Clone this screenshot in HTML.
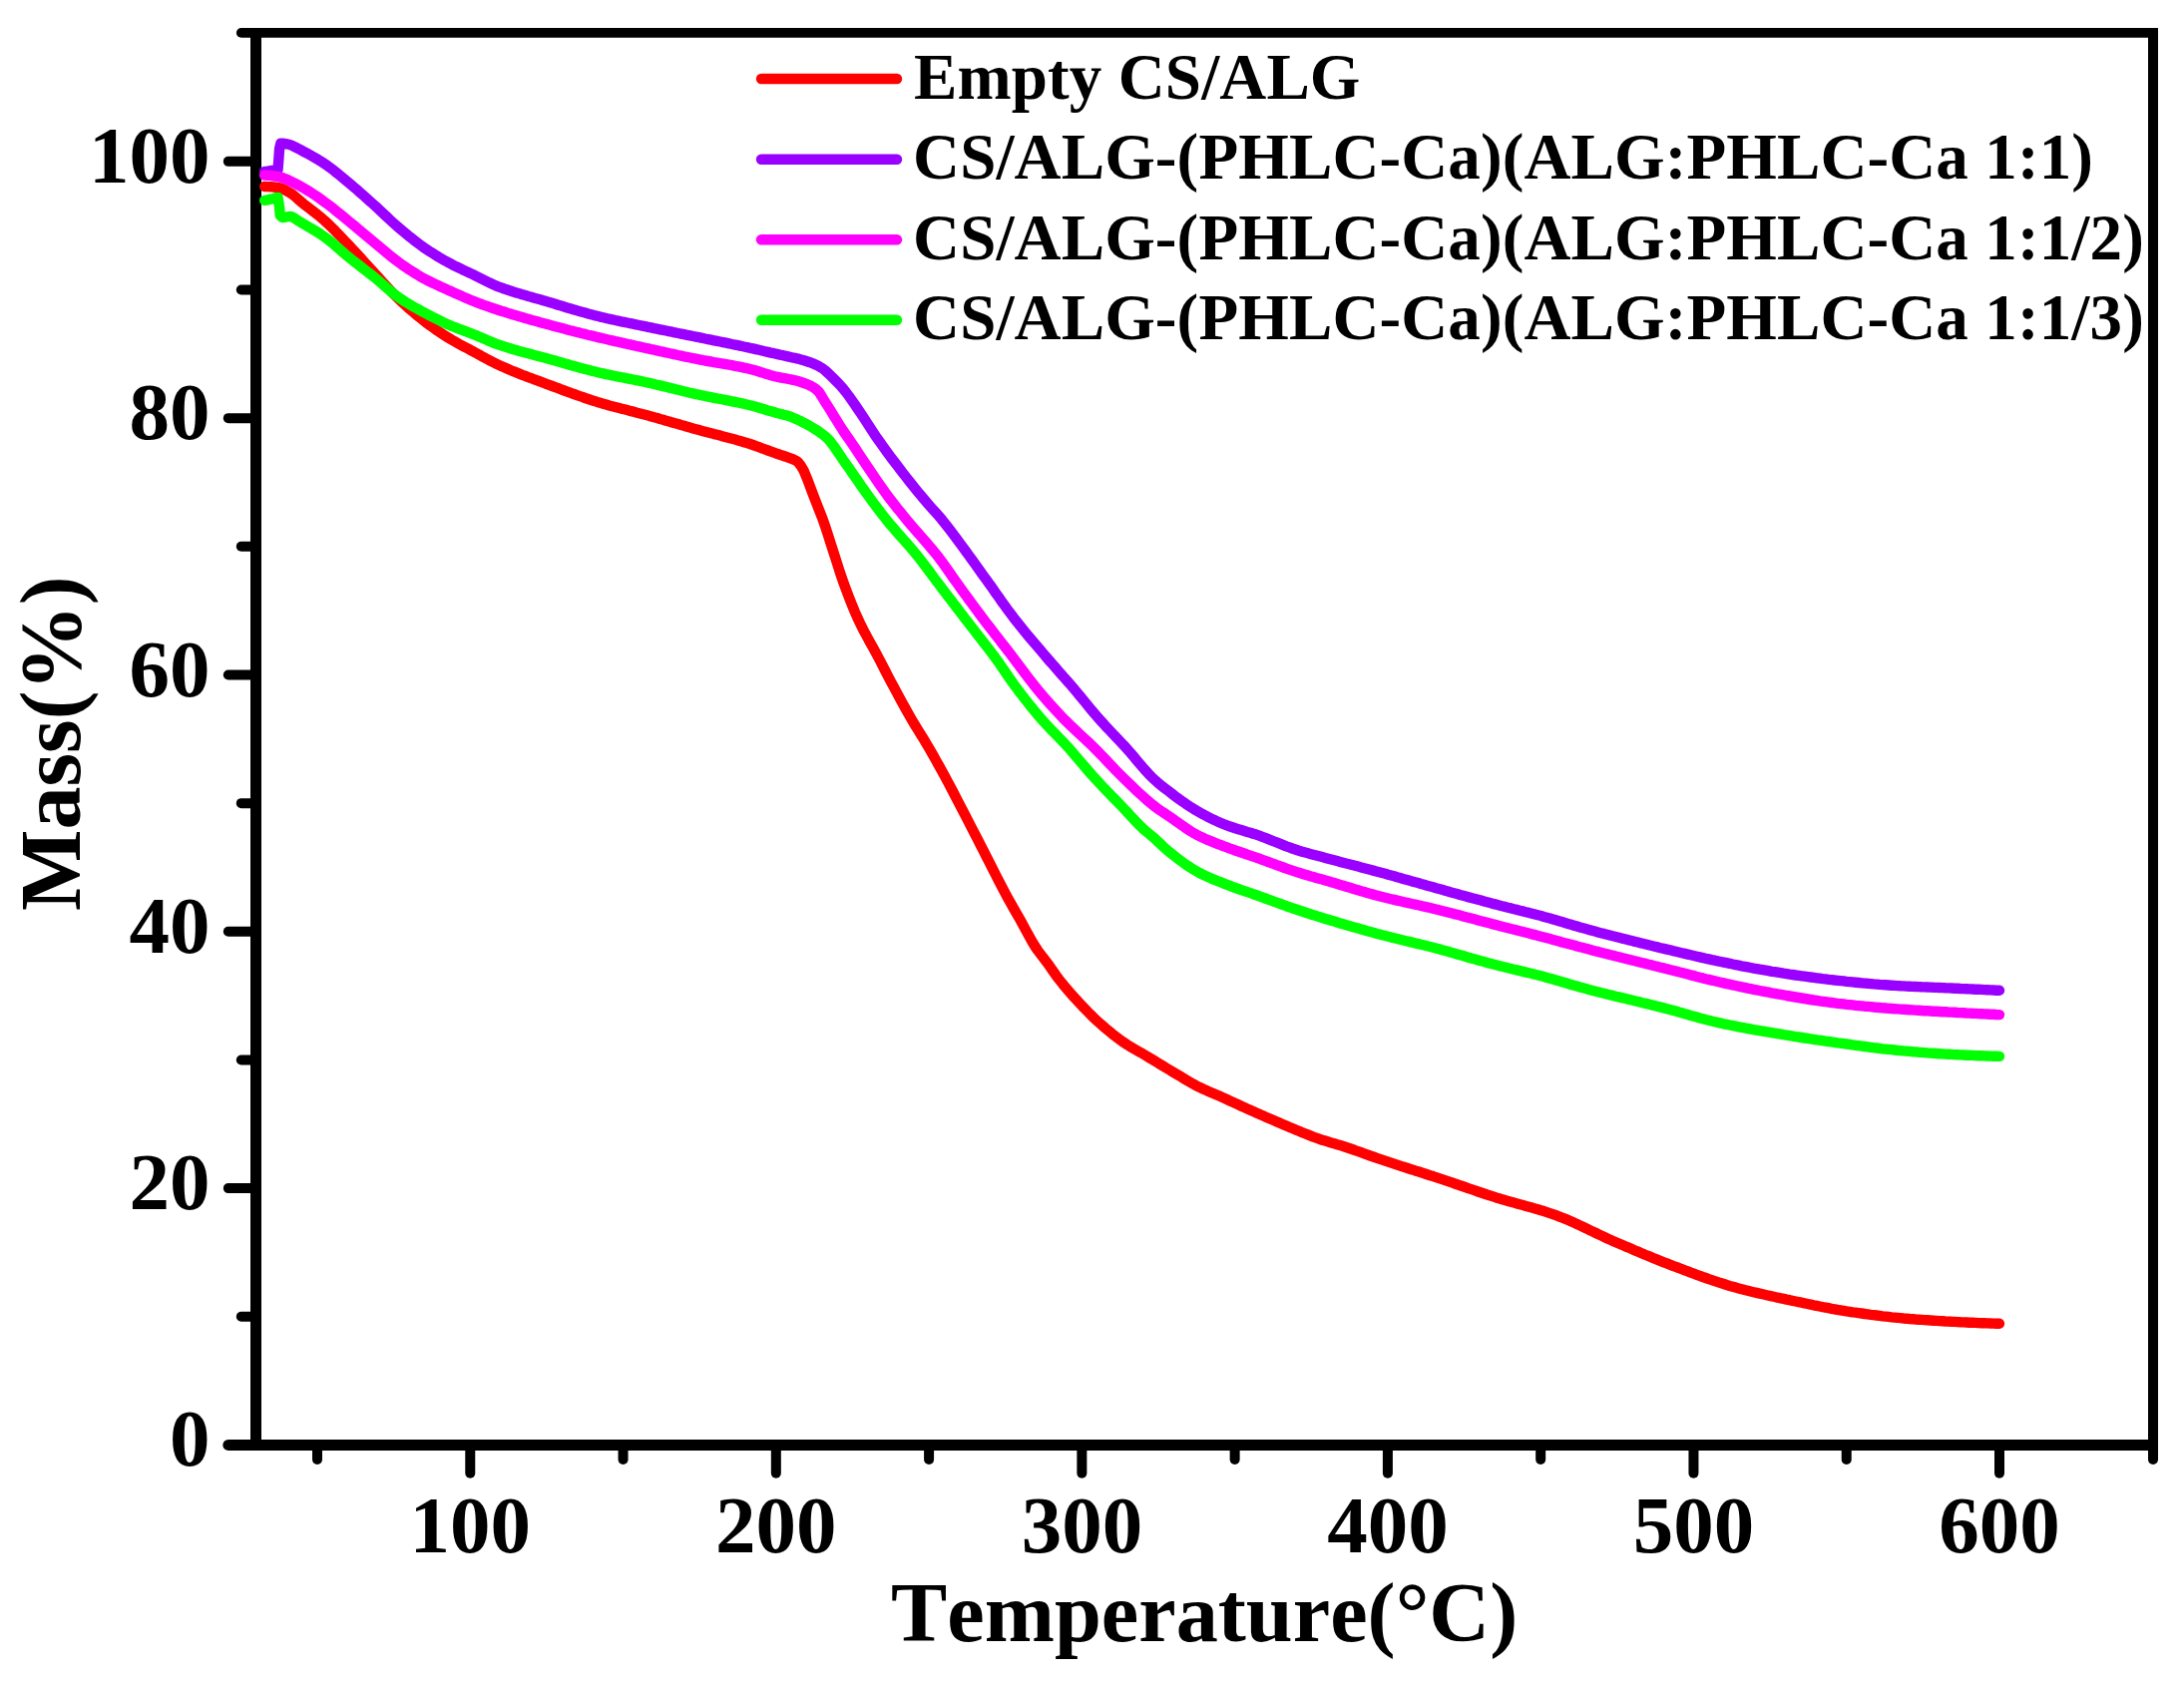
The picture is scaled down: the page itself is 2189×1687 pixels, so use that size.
<!DOCTYPE html>
<html lang="en">
<head>
<meta charset="utf-8">
<title>TGA curves</title>
<style>
html,body{margin:0;padding:0;background:#fff;}
svg{display:block;}
text{font-kerning:none;font-family:"Liberation Serif","Times New Roman",serif;font-weight:bold;fill:#000;}
</style>
</head>
<body>
<svg width="2189" height="1687" viewBox="0 0 2189 1687">
<rect x="0" y="0" width="2189" height="1687" fill="#ffffff"/>
<g stroke="#000" fill="none">
<line x1="256.5" y1="28" x2="256.5" y2="1453.9" stroke-width="11"/>
<line x1="2158" y1="28" x2="2158" y2="1453.9" stroke-width="10"/>
<line x1="251" y1="32.9" x2="2163" y2="32.9" stroke-width="9.8"/>
<line x1="251" y1="1448.45" x2="2163" y2="1448.45" stroke-width="10.9"/>
</g>
<g stroke="#000" stroke-width="10" stroke-linecap="round" fill="none">
<line x1="253.5" y1="1448.45" x2="228.8" y2="1448.45" stroke-width="10.9"/>
<line x1="253.5" y1="1319.75" x2="241.8" y2="1319.75"/>
<line x1="253.5" y1="1191.09" x2="228.8" y2="1191.09"/>
<line x1="253.5" y1="1062.44" x2="241.8" y2="1062.44"/>
<line x1="253.5" y1="933.78" x2="228.8" y2="933.78"/>
<line x1="253.5" y1="805.13" x2="241.8" y2="805.13"/>
<line x1="253.5" y1="676.47" x2="228.8" y2="676.47"/>
<line x1="253.5" y1="547.82" x2="241.8" y2="547.82"/>
<line x1="253.5" y1="419.16" x2="228.8" y2="419.16"/>
<line x1="253.5" y1="290.51" x2="241.8" y2="290.51"/>
<line x1="253.5" y1="161.85" x2="228.8" y2="161.85"/>
<line x1="253.5" y1="32.90" x2="241.8" y2="32.90" stroke-width="9.8"/>
<line x1="318.00" y1="1451.4" x2="318.00" y2="1463.0"/>
<line x1="471.27" y1="1451.4" x2="471.27" y2="1476.7"/>
<line x1="624.54" y1="1451.4" x2="624.54" y2="1463.0"/>
<line x1="777.82" y1="1451.4" x2="777.82" y2="1476.7"/>
<line x1="931.09" y1="1451.4" x2="931.09" y2="1463.0"/>
<line x1="1084.36" y1="1451.4" x2="1084.36" y2="1476.7"/>
<line x1="1237.63" y1="1451.4" x2="1237.63" y2="1463.0"/>
<line x1="1390.91" y1="1451.4" x2="1390.91" y2="1476.7"/>
<line x1="1544.18" y1="1451.4" x2="1544.18" y2="1463.0"/>
<line x1="1697.45" y1="1451.4" x2="1697.45" y2="1476.7"/>
<line x1="1850.72" y1="1451.4" x2="1850.72" y2="1463.0"/>
<line x1="2004.00" y1="1451.4" x2="2004.00" y2="1476.7"/>
<line x1="2158.00" y1="1451.4" x2="2158.00" y2="1463.0"/>
</g>
<g fill="none" stroke-width="10.4" stroke-linecap="round" stroke-linejoin="round">
<polyline stroke="#ff0000" points="265.2,187.0 268.2,187.1 271.2,187.2 274.2,187.5 277.2,187.8 278.5,188.0 280.2,188.3 283.2,189.3 286.2,190.7 289.2,192.4 292.2,194.2 292.8,194.6 295.2,196.5 298.2,199.2 301.2,201.8 304.2,204.3 307.2,206.6 310.2,208.9 313.2,211.3 316.3,213.6 319.3,216.0 322.3,218.5 325.3,221.1 328.3,223.9 331.3,226.8 334.3,229.7 337.3,232.8 340.3,235.9 343.3,239.0 346.3,242.2 349.3,245.4 352.3,248.5 355.3,251.7 358.3,255.0 361.3,258.3 364.3,261.7 367.3,265.0 370.3,268.3 373.3,271.6 376.3,274.8 379.3,278.1 382.3,281.4 385.3,284.7 388.3,288.0 391.3,291.2 394.3,294.4 397.3,297.4 400.3,300.3 403.3,303.2 406.3,305.9 409.3,308.7 412.4,311.3 415.4,313.9 418.4,316.4 421.4,318.8 424.4,321.2 427.4,323.5 430.4,325.7 433.4,327.9 436.4,330.1 439.4,332.1 442.4,334.2 445.4,336.1 448.4,338.0 451.4,339.8 454.4,341.6 457.4,343.3 460.4,345.0 463.4,346.6 466.4,348.2 469.4,349.7 472.4,351.3 475.4,352.9 478.4,354.6 481.4,356.2 484.4,357.9 487.4,359.5 490.4,361.1 493.4,362.7 496.4,364.2 499.4,365.6 502.4,367.0 505.4,368.3 508.5,369.6 511.5,370.9 514.5,372.2 517.5,373.4 520.5,374.6 523.5,375.8 526.5,376.9 529.5,378.1 532.5,379.2 535.5,380.3 538.5,381.4 541.5,382.5 544.5,383.7 547.5,384.8 550.5,385.9 553.5,387.0 556.5,388.1 559.5,389.2 562.5,390.4 565.5,391.5 568.5,392.6 571.5,393.7 574.5,394.8 577.5,395.8 580.5,396.9 583.5,397.9 586.5,399.0 589.5,400.0 592.5,401.0 595.5,401.9 598.5,402.9 601.5,403.8 604.6,404.7 607.6,405.5 610.6,406.4 613.6,407.2 616.6,408.0 619.6,408.8 622.6,409.6 625.6,410.3 628.6,411.1 631.6,411.9 634.6,412.6 637.6,413.4 640.6,414.2 643.6,415.0 646.6,415.8 649.6,416.6 652.6,417.4 655.6,418.3 658.6,419.1 661.6,420.0 664.6,420.8 667.6,421.7 670.6,422.5 673.6,423.4 676.6,424.3 679.6,425.1 682.6,426.0 685.6,426.8 688.6,427.7 691.6,428.6 694.6,429.4 697.6,430.2 700.7,431.1 703.7,431.9 706.7,432.7 709.7,433.5 712.7,434.3 715.7,435.1 718.7,435.8 721.7,436.6 724.7,437.4 727.7,438.2 730.7,439.0 733.7,439.8 736.7,440.6 739.7,441.4 742.7,442.3 745.7,443.2 748.7,444.1 751.7,445.0 754.7,446.0 757.7,447.1 760.7,448.2 763.7,449.3 766.7,450.4 769.7,451.5 772.7,452.6 775.7,453.7 778.7,454.8 781.7,455.8 784.7,456.7 787.7,457.7 790.7,458.8 793.7,459.9 796.8,461.2 799.8,463.1 802.8,467.0 805.8,472.2 808.8,479.4 811.8,487.3 814.8,495.4 817.8,503.2 820.8,510.7 823.8,518.3 826.8,526.8 829.8,535.9 832.8,545.3 835.8,554.7 838.8,564.0 841.8,573.5 844.8,582.2 847.8,590.5 850.8,598.4 853.8,606.0 856.8,613.3 859.8,620.0 862.8,626.4 865.8,632.3 868.8,637.9 871.8,643.4 874.8,648.8 877.8,654.3 880.8,659.9 883.8,665.7 886.8,671.5 889.8,677.3 892.8,683.1 895.9,688.8 898.9,694.4 901.9,700.0 904.9,705.5 907.9,710.9 910.9,716.3 913.9,721.5 916.9,726.5 919.9,731.4 922.9,736.3 925.9,741.1 928.9,746.1 931.9,751.2 934.9,756.4 937.9,761.7 940.9,767.1 943.9,772.5 946.9,778.0 949.9,783.6 952.9,789.2 955.9,795.0 958.9,800.8 961.9,806.6 964.9,812.4 967.9,818.1 970.9,824.0 973.9,829.8 976.9,835.6 979.9,841.4 982.9,847.3 985.9,853.2 988.9,859.2 992.0,865.2 995.0,871.1 998.0,877.0 1001.0,882.9 1004.0,888.7 1007.0,894.4 1010.0,899.9 1013.0,905.3 1016.0,910.6 1019.0,915.8 1022.0,921.0 1025.0,926.5 1028.0,932.1 1031.0,937.6 1034.0,943.0 1037.0,948.0 1040.0,952.5 1043.0,956.5 1046.0,960.4 1049.0,964.3 1052.0,968.4 1055.0,972.8 1058.0,977.1 1061.0,981.1 1064.0,984.9 1067.0,988.6 1070.0,992.1 1073.0,995.6 1076.0,999.0 1079.0,1002.3 1082.0,1005.6 1085.0,1008.8 1088.1,1011.9 1091.1,1015.0 1094.1,1018.0 1097.1,1020.9 1100.1,1023.7 1103.1,1026.4 1106.1,1029.0 1109.1,1031.6 1112.1,1034.1 1115.1,1036.6 1118.1,1038.9 1121.1,1041.2 1124.1,1043.4 1127.1,1045.4 1130.1,1047.4 1133.1,1049.2 1136.1,1051.0 1139.1,1052.7 1142.1,1054.4 1145.1,1056.1 1148.1,1057.9 1151.1,1059.7 1154.1,1061.5 1157.1,1063.3 1160.1,1065.1 1163.1,1067.0 1166.1,1068.8 1169.1,1070.6 1172.1,1072.4 1175.1,1074.2 1178.1,1076.0 1181.1,1077.8 1184.2,1079.6 1187.2,1081.5 1190.2,1083.3 1193.2,1085.0 1196.2,1086.7 1199.2,1088.3 1202.2,1089.8 1205.2,1091.2 1208.2,1092.6 1211.2,1093.9 1214.2,1095.2 1217.2,1096.5 1220.2,1097.8 1223.2,1099.1 1226.2,1100.4 1229.2,1101.8 1232.2,1103.2 1235.2,1104.6 1238.2,1105.9 1241.2,1107.3 1244.2,1108.7 1247.2,1110.1 1250.2,1111.4 1253.2,1112.7 1256.2,1114.1 1259.2,1115.4 1262.2,1116.7 1265.2,1118.1 1268.2,1119.4 1271.2,1120.7 1274.2,1122.0 1277.2,1123.3 1280.3,1124.7 1283.3,1125.9 1286.3,1127.2 1289.3,1128.5 1292.3,1129.8 1295.3,1131.0 1298.3,1132.3 1301.3,1133.5 1304.3,1134.8 1307.3,1136.0 1310.3,1137.2 1313.3,1138.4 1316.3,1139.6 1319.3,1140.6 1322.3,1141.7 1325.3,1142.7 1328.3,1143.6 1331.3,1144.5 1334.3,1145.4 1337.3,1146.3 1340.3,1147.2 1343.3,1148.1 1346.3,1149.0 1349.3,1150.0 1352.3,1151.0 1355.3,1152.0 1358.3,1153.1 1361.3,1154.1 1364.3,1155.2 1367.3,1156.3 1370.3,1157.4 1373.3,1158.5 1376.4,1159.5 1379.4,1160.6 1382.4,1161.6 1385.4,1162.6 1388.4,1163.6 1391.4,1164.6 1394.4,1165.6 1397.4,1166.6 1400.4,1167.6 1403.4,1168.6 1406.4,1169.6 1409.4,1170.5 1412.4,1171.5 1415.4,1172.4 1418.4,1173.4 1421.4,1174.3 1424.4,1175.3 1427.4,1176.2 1430.4,1177.2 1433.4,1178.2 1436.4,1179.1 1439.4,1180.1 1442.4,1181.1 1445.4,1182.1 1448.4,1183.1 1451.4,1184.1 1454.4,1185.1 1457.4,1186.2 1460.4,1187.2 1463.4,1188.3 1466.4,1189.3 1469.4,1190.3 1472.4,1191.4 1475.5,1192.4 1478.5,1193.4 1481.5,1194.5 1484.5,1195.5 1487.5,1196.5 1490.5,1197.5 1493.5,1198.4 1496.5,1199.4 1499.5,1200.4 1502.5,1201.3 1505.5,1202.2 1508.5,1203.1 1511.5,1203.9 1514.5,1204.8 1517.5,1205.6 1520.5,1206.4 1523.5,1207.3 1526.5,1208.1 1529.5,1208.9 1532.5,1209.7 1535.5,1210.6 1538.5,1211.4 1541.5,1212.3 1544.5,1213.2 1547.5,1214.1 1550.5,1215.1 1553.5,1216.1 1556.5,1217.1 1559.5,1218.2 1562.5,1219.3 1565.5,1220.5 1568.5,1221.7 1571.6,1222.9 1574.6,1224.3 1577.6,1225.6 1580.6,1227.0 1583.6,1228.4 1586.6,1229.8 1589.6,1231.2 1592.6,1232.7 1595.6,1234.1 1598.6,1235.5 1601.6,1237.0 1604.6,1238.4 1607.6,1239.8 1610.6,1241.2 1613.6,1242.6 1616.6,1243.9 1619.6,1245.2 1622.6,1246.5 1625.6,1247.8 1628.6,1249.1 1631.6,1250.3 1634.6,1251.6 1637.6,1252.9 1640.6,1254.2 1643.6,1255.4 1646.6,1256.7 1649.6,1258.0 1652.6,1259.2 1655.6,1260.4 1658.6,1261.7 1661.6,1262.9 1664.6,1264.1 1667.7,1265.3 1670.7,1266.4 1673.7,1267.6 1676.7,1268.8 1679.7,1269.9 1682.7,1271.0 1685.7,1272.2 1688.7,1273.3 1691.7,1274.4 1694.7,1275.6 1697.7,1276.7 1700.7,1277.8 1703.7,1278.9 1706.7,1280.0 1709.7,1281.0 1712.7,1282.1 1715.7,1283.1 1718.7,1284.1 1721.7,1285.1 1724.7,1286.1 1727.7,1287.0 1730.7,1288.0 1733.7,1288.9 1736.7,1289.7 1739.7,1290.6 1742.7,1291.4 1745.7,1292.2 1748.7,1293.0 1751.7,1293.7 1754.7,1294.5 1757.7,1295.2 1760.7,1295.9 1763.8,1296.6 1766.8,1297.3 1769.8,1298.0 1772.8,1298.7 1775.8,1299.3 1778.8,1300.0 1781.8,1300.7 1784.8,1301.3 1787.8,1301.9 1790.8,1302.6 1793.8,1303.2 1796.8,1303.9 1799.8,1304.5 1802.8,1305.1 1805.8,1305.7 1808.8,1306.4 1811.8,1307.0 1814.8,1307.6 1817.8,1308.3 1820.8,1308.9 1823.8,1309.5 1826.8,1310.1 1829.8,1310.6 1832.8,1311.2 1835.8,1311.8 1838.8,1312.3 1841.8,1312.9 1844.8,1313.4 1847.8,1313.9 1850.8,1314.4 1853.8,1314.8 1856.8,1315.3 1859.9,1315.7 1862.9,1316.1 1865.9,1316.5 1868.9,1317.0 1871.9,1317.4 1874.9,1317.8 1877.9,1318.1 1880.9,1318.5 1883.9,1318.9 1886.9,1319.3 1889.9,1319.6 1892.9,1319.9 1895.9,1320.3 1898.9,1320.6 1901.9,1320.9 1904.9,1321.2 1907.9,1321.5 1910.9,1321.7 1913.9,1322.0 1916.9,1322.2 1919.9,1322.5 1922.9,1322.7 1925.9,1322.9 1928.9,1323.1 1931.9,1323.3 1934.9,1323.5 1937.9,1323.7 1940.9,1323.9 1943.9,1324.1 1946.9,1324.3 1949.9,1324.5 1952.9,1324.6 1956.0,1324.8 1959.0,1324.9 1962.0,1325.1 1965.0,1325.3 1968.0,1325.4 1971.0,1325.5 1974.0,1325.7 1977.0,1325.8 1980.0,1325.9 1983.0,1326.1 1986.0,1326.2 1989.0,1326.3 1992.0,1326.4 1995.0,1326.5 1998.0,1326.6 2001.0,1326.7 2004.0,1326.8"/>
<polyline stroke="#9900ff" points="265.2,172.0 268.2,171.6 271.2,171.1 272.0,171.0 274.2,170.8 277.2,170.4 278.5,170.0 279.3,160.0 280.0,150.0 280.2,148.5 281.4,143.6 283.2,143.7 286.2,144.1 289.0,144.6 289.2,144.6 292.2,145.6 295.2,147.1 298.2,148.7 301.2,150.2 304.2,151.8 307.2,153.4 310.2,155.0 313.2,156.7 316.3,158.5 319.3,160.3 322.3,162.2 325.3,164.2 328.3,166.2 331.3,168.4 334.3,170.7 337.3,173.1 340.3,175.5 343.3,178.0 346.3,180.5 349.3,183.0 352.3,185.5 355.3,188.1 358.3,190.6 361.3,193.3 364.3,195.9 367.3,198.6 370.3,201.3 373.3,204.0 376.3,206.7 379.3,209.4 382.3,212.3 385.3,215.1 388.3,217.9 391.3,220.7 394.3,223.5 397.3,226.2 400.3,228.8 403.3,231.3 406.3,233.8 409.3,236.3 412.4,238.7 415.4,241.1 418.4,243.4 421.4,245.6 424.4,247.8 427.4,249.8 430.4,251.8 433.4,253.7 436.4,255.6 439.4,257.5 442.4,259.2 445.4,260.9 448.4,262.6 451.4,264.2 454.4,265.8 457.4,267.3 460.4,268.7 463.4,270.2 466.4,271.6 469.4,273.0 472.4,274.4 475.4,275.8 478.4,277.3 481.4,278.8 484.4,280.3 487.4,281.8 490.4,283.3 493.4,284.7 496.4,286.1 499.4,287.3 502.4,288.4 505.4,289.5 508.5,290.5 511.5,291.5 514.5,292.5 517.5,293.4 520.5,294.3 523.5,295.2 526.5,296.1 529.5,297.0 532.5,297.8 535.5,298.7 538.5,299.5 541.5,300.3 544.5,301.2 547.5,302.1 550.5,302.9 553.5,303.8 556.5,304.7 559.5,305.7 562.5,306.6 565.5,307.5 568.5,308.4 571.5,309.3 574.5,310.2 577.5,311.1 580.5,311.9 583.5,312.8 586.5,313.6 589.5,314.5 592.5,315.3 595.5,316.1 598.5,316.8 601.5,317.6 604.6,318.3 607.6,319.0 610.6,319.7 613.6,320.3 616.6,321.0 619.6,321.6 622.6,322.3 625.6,322.9 628.6,323.5 631.6,324.1 634.6,324.7 637.6,325.4 640.6,326.0 643.6,326.6 646.6,327.2 649.6,327.8 652.6,328.4 655.6,329.1 658.6,329.7 661.6,330.3 664.6,330.9 667.6,331.5 670.6,332.1 673.6,332.7 676.6,333.4 679.6,334.0 682.6,334.6 685.6,335.2 688.6,335.8 691.6,336.4 694.6,337.0 697.6,337.6 700.7,338.2 703.7,338.8 706.7,339.5 709.7,340.1 712.7,340.7 715.7,341.3 718.7,341.9 721.7,342.5 724.7,343.1 727.7,343.7 730.7,344.3 733.7,345.0 736.7,345.6 739.7,346.2 742.7,346.8 745.7,347.5 748.7,348.1 751.7,348.8 754.7,349.4 757.7,350.1 760.7,350.8 763.7,351.5 766.7,352.2 769.7,352.9 772.7,353.6 775.7,354.2 778.7,354.9 781.7,355.6 784.7,356.2 787.7,356.9 790.7,357.6 793.7,358.3 796.8,358.9 799.8,359.6 802.8,360.4 805.8,361.2 808.8,362.2 811.8,363.2 814.8,364.3 817.8,365.7 820.8,367.2 823.8,368.9 826.8,371.1 829.8,373.9 832.8,376.8 835.8,379.8 838.8,382.8 841.8,385.9 844.8,389.3 847.8,393.0 850.8,397.0 853.8,401.2 856.8,405.5 859.8,410.0 862.8,414.4 865.8,418.9 868.8,423.5 871.8,428.1 874.8,432.8 877.8,437.3 880.8,441.6 883.8,445.8 886.8,450.0 889.8,454.1 892.8,458.2 895.9,462.2 898.9,466.2 901.9,470.2 904.9,474.1 907.9,477.9 910.9,481.7 913.9,485.5 916.9,489.2 919.9,492.9 922.9,496.6 925.9,500.2 928.9,503.7 931.9,507.1 934.9,510.4 937.9,513.7 940.9,517.1 943.9,520.7 946.9,524.5 949.9,528.3 952.9,532.2 955.9,536.1 958.9,540.1 961.9,544.2 964.9,548.3 967.9,552.4 970.9,556.5 973.9,560.6 976.9,564.7 979.9,568.9 982.9,573.2 985.9,577.4 988.9,581.6 992.0,585.8 995.0,590.1 998.0,594.4 1001.0,598.6 1004.0,602.9 1007.0,607.1 1010.0,611.2 1013.0,615.2 1016.0,619.2 1019.0,623.0 1022.0,626.8 1025.0,630.5 1028.0,634.2 1031.0,637.8 1034.0,641.4 1037.0,644.9 1040.0,648.4 1043.0,651.9 1046.0,655.5 1049.0,659.0 1052.0,662.5 1055.0,665.9 1058.0,669.3 1061.0,672.8 1064.0,676.2 1067.0,679.6 1070.0,683.0 1073.0,686.4 1076.0,689.9 1079.0,693.5 1082.0,697.1 1085.0,700.8 1088.1,704.5 1091.1,708.2 1094.1,711.8 1097.1,715.4 1100.1,718.9 1103.1,722.3 1106.1,725.6 1109.1,728.9 1112.1,732.0 1115.1,735.2 1118.1,738.3 1121.1,741.5 1124.1,744.7 1127.1,747.9 1130.1,751.2 1133.1,754.6 1136.1,758.2 1139.1,761.8 1142.1,765.3 1145.1,768.9 1148.1,772.3 1151.1,775.6 1154.1,778.7 1157.1,781.5 1160.1,784.2 1163.1,786.7 1166.1,789.1 1169.1,791.4 1172.1,793.7 1175.1,796.0 1178.1,798.3 1181.1,800.5 1184.2,802.7 1187.2,804.8 1190.2,806.9 1193.2,808.8 1196.2,810.7 1199.2,812.5 1202.2,814.2 1205.2,815.9 1208.2,817.5 1211.2,819.1 1214.2,820.6 1217.2,822.0 1220.2,823.4 1223.2,824.7 1226.2,826.0 1229.2,827.2 1232.2,828.3 1235.2,829.3 1238.2,830.3 1241.2,831.2 1244.2,832.1 1247.2,833.0 1250.2,833.9 1253.2,834.7 1256.2,835.7 1259.2,836.6 1262.2,837.7 1265.2,838.8 1268.2,839.9 1271.2,841.1 1274.2,842.3 1277.2,843.5 1280.3,844.7 1283.3,845.9 1286.3,847.1 1289.3,848.3 1292.3,849.4 1295.3,850.5 1298.3,851.5 1301.3,852.5 1304.3,853.4 1307.3,854.3 1310.3,855.1 1313.3,855.9 1316.3,856.7 1319.3,857.5 1322.3,858.3 1325.3,859.1 1328.3,859.9 1331.3,860.7 1334.3,861.5 1337.3,862.3 1340.3,863.1 1343.3,863.9 1346.3,864.7 1349.3,865.5 1352.3,866.2 1355.3,867.0 1358.3,867.8 1361.3,868.6 1364.3,869.4 1367.3,870.2 1370.3,871.0 1373.3,871.8 1376.4,872.6 1379.4,873.4 1382.4,874.2 1385.4,875.0 1388.4,875.8 1391.4,876.7 1394.4,877.5 1397.4,878.3 1400.4,879.2 1403.4,880.0 1406.4,880.9 1409.4,881.7 1412.4,882.6 1415.4,883.4 1418.4,884.3 1421.4,885.1 1424.4,886.0 1427.4,886.8 1430.4,887.7 1433.4,888.5 1436.4,889.3 1439.4,890.2 1442.4,891.0 1445.4,891.8 1448.4,892.7 1451.4,893.5 1454.4,894.4 1457.4,895.2 1460.4,896.0 1463.4,896.9 1466.4,897.7 1469.4,898.5 1472.4,899.4 1475.5,900.2 1478.5,901.0 1481.5,901.8 1484.5,902.6 1487.5,903.5 1490.5,904.3 1493.5,905.1 1496.5,905.9 1499.5,906.6 1502.5,907.4 1505.5,908.2 1508.5,908.9 1511.5,909.7 1514.5,910.4 1517.5,911.2 1520.5,911.9 1523.5,912.7 1526.5,913.4 1529.5,914.2 1532.5,914.9 1535.5,915.7 1538.5,916.5 1541.5,917.3 1544.5,918.0 1547.5,918.9 1550.5,919.7 1553.5,920.5 1556.5,921.4 1559.5,922.3 1562.5,923.2 1565.5,924.1 1568.5,925.0 1571.6,925.9 1574.6,926.8 1577.6,927.7 1580.6,928.6 1583.6,929.5 1586.6,930.3 1589.6,931.1 1592.6,931.9 1595.6,932.8 1598.6,933.6 1601.6,934.4 1604.6,935.2 1607.6,935.9 1610.6,936.7 1613.6,937.5 1616.6,938.3 1619.6,939.0 1622.6,939.8 1625.6,940.6 1628.6,941.3 1631.6,942.1 1634.6,942.8 1637.6,943.6 1640.6,944.3 1643.6,945.1 1646.6,945.8 1649.6,946.5 1652.6,947.3 1655.6,948.0 1658.6,948.7 1661.6,949.4 1664.6,950.2 1667.7,950.9 1670.7,951.6 1673.7,952.3 1676.7,953.1 1679.7,953.8 1682.7,954.5 1685.7,955.2 1688.7,955.9 1691.7,956.6 1694.7,957.3 1697.7,958.0 1700.7,958.7 1703.7,959.4 1706.7,960.1 1709.7,960.8 1712.7,961.4 1715.7,962.1 1718.7,962.7 1721.7,963.4 1724.7,964.0 1727.7,964.6 1730.7,965.2 1733.7,965.8 1736.7,966.5 1739.7,967.1 1742.7,967.7 1745.7,968.3 1748.7,968.8 1751.7,969.4 1754.7,970.0 1757.7,970.6 1760.7,971.1 1763.8,971.7 1766.8,972.2 1769.8,972.7 1772.8,973.2 1775.8,973.8 1778.8,974.2 1781.8,974.7 1784.8,975.2 1787.8,975.7 1790.8,976.1 1793.8,976.6 1796.8,977.0 1799.8,977.5 1802.8,977.9 1805.8,978.3 1808.8,978.7 1811.8,979.1 1814.8,979.5 1817.8,979.9 1820.8,980.3 1823.8,980.7 1826.8,981.1 1829.8,981.4 1832.8,981.8 1835.8,982.1 1838.8,982.5 1841.8,982.8 1844.8,983.1 1847.8,983.4 1850.8,983.8 1853.8,984.1 1856.8,984.4 1859.9,984.7 1862.9,985.0 1865.9,985.3 1868.9,985.6 1871.9,985.8 1874.9,986.1 1877.9,986.4 1880.9,986.6 1883.9,986.9 1886.9,987.1 1889.9,987.3 1892.9,987.5 1895.9,987.7 1898.9,987.9 1901.9,988.1 1904.9,988.3 1907.9,988.4 1910.9,988.6 1913.9,988.7 1916.9,988.9 1919.9,989.0 1922.9,989.1 1925.9,989.3 1928.9,989.4 1931.9,989.5 1934.9,989.6 1937.9,989.8 1940.9,989.9 1943.9,990.0 1946.9,990.1 1949.9,990.3 1952.9,990.4 1956.0,990.5 1959.0,990.7 1962.0,990.8 1965.0,991.0 1968.0,991.1 1971.0,991.2 1974.0,991.4 1977.0,991.5 1980.0,991.7 1983.0,991.8 1986.0,991.9 1989.0,992.1 1992.0,992.2 1995.0,992.4 1998.0,992.5 2001.0,992.7 2004.0,992.8"/>
<polyline stroke="#ff00ff" points="265.2,175.6 268.2,175.7 271.2,176.0 274.2,176.3 277.2,176.8 278.5,177.0 280.2,177.3 283.2,178.2 286.2,179.3 289.2,180.6 292.2,182.1 295.2,183.6 298.2,185.2 301.2,186.7 304.2,188.4 307.2,190.2 310.2,192.0 313.2,194.0 316.3,196.0 319.3,198.1 322.3,200.3 325.3,202.4 328.3,204.6 331.3,206.9 334.3,209.2 337.3,211.7 340.3,214.1 343.3,216.6 346.3,219.1 349.3,221.5 352.3,224.0 355.3,226.4 358.3,228.9 361.3,231.4 364.3,233.9 367.3,236.4 370.3,238.9 373.3,241.4 376.3,243.9 379.3,246.4 382.3,248.9 385.3,251.5 388.3,254.0 391.3,256.5 394.3,258.9 397.3,261.2 400.3,263.4 403.3,265.6 406.3,267.6 409.3,269.7 412.4,271.6 415.4,273.5 418.4,275.4 421.4,277.2 424.4,278.9 427.4,280.5 430.4,282.0 433.4,283.5 436.4,284.9 439.4,286.3 442.4,287.7 445.4,289.0 448.4,290.4 451.4,291.7 454.4,293.1 457.4,294.5 460.4,295.8 463.4,297.1 466.4,298.5 469.4,299.7 472.4,301.0 475.4,302.2 478.4,303.3 481.4,304.5 484.4,305.6 487.4,306.6 490.4,307.7 493.4,308.7 496.4,309.7 499.4,310.7 502.4,311.7 505.4,312.6 508.5,313.6 511.5,314.5 514.5,315.4 517.5,316.3 520.5,317.2 523.5,318.1 526.5,319.0 529.5,319.8 532.5,320.7 535.5,321.5 538.5,322.3 541.5,323.2 544.5,324.0 547.5,324.8 550.5,325.6 553.5,326.4 556.5,327.2 559.5,328.0 562.5,328.8 565.5,329.6 568.5,330.4 571.5,331.2 574.5,331.9 577.5,332.7 580.5,333.4 583.5,334.2 586.5,334.9 589.5,335.7 592.5,336.4 595.5,337.1 598.5,337.9 601.5,338.6 604.6,339.3 607.6,340.0 610.6,340.7 613.6,341.4 616.6,342.1 619.6,342.7 622.6,343.4 625.6,344.1 628.6,344.8 631.6,345.4 634.6,346.1 637.6,346.8 640.6,347.4 643.6,348.1 646.6,348.8 649.6,349.4 652.6,350.1 655.6,350.7 658.6,351.4 661.6,352.1 664.6,352.7 667.6,353.4 670.6,354.0 673.6,354.7 676.6,355.3 679.6,356.0 682.6,356.6 685.6,357.3 688.6,357.9 691.6,358.5 694.6,359.1 697.6,359.7 700.7,360.3 703.7,360.9 706.7,361.5 709.7,362.0 712.7,362.5 715.7,363.1 718.7,363.6 721.7,364.1 724.7,364.6 727.7,365.1 730.7,365.7 733.7,366.2 736.7,366.8 739.7,367.3 742.7,367.9 745.7,368.6 748.7,369.2 751.7,369.9 754.7,370.7 757.7,371.6 760.7,372.5 763.7,373.4 766.7,374.4 769.7,375.3 772.7,376.2 775.7,377.0 778.7,377.7 781.7,378.3 784.7,378.9 787.7,379.4 790.7,380.0 793.7,380.6 796.8,381.3 799.8,382.1 802.8,383.0 805.8,384.0 808.8,385.1 811.8,386.4 814.8,388.0 817.8,390.1 820.8,392.9 823.8,397.6 826.8,402.6 829.8,407.3 832.8,412.1 835.8,416.9 838.8,421.7 841.8,426.6 844.8,431.3 847.8,435.7 850.8,440.0 853.8,444.4 856.8,448.8 859.8,453.3 862.8,457.8 865.8,462.3 868.8,466.8 871.8,471.2 874.8,475.7 877.8,480.1 880.8,484.4 883.8,488.7 886.8,493.0 889.8,497.1 892.8,501.1 895.9,505.0 898.9,508.9 901.9,512.6 904.9,516.3 907.9,520.0 910.9,523.6 913.9,527.1 916.9,530.6 919.9,534.0 922.9,537.4 925.9,540.9 928.9,544.3 931.9,547.8 934.9,551.4 937.9,555.0 940.9,558.8 943.9,562.8 946.9,567.0 949.9,571.3 952.9,575.6 955.9,579.9 958.9,584.0 961.9,588.2 964.9,592.4 967.9,596.5 970.9,600.6 973.9,604.7 976.9,608.8 979.9,612.8 982.9,616.9 985.9,620.9 988.9,624.8 992.0,628.8 995.0,632.7 998.0,636.6 1001.0,640.4 1004.0,644.3 1007.0,648.2 1010.0,652.0 1013.0,655.9 1016.0,659.8 1019.0,663.8 1022.0,667.8 1025.0,671.8 1028.0,675.9 1031.0,679.8 1034.0,683.7 1037.0,687.5 1040.0,691.2 1043.0,694.8 1046.0,698.3 1049.0,701.8 1052.0,705.2 1055.0,708.5 1058.0,711.8 1061.0,715.0 1064.0,718.2 1067.0,721.3 1070.0,724.3 1073.0,727.2 1076.0,730.1 1079.0,732.9 1082.0,735.7 1085.0,738.5 1088.1,741.3 1091.1,744.1 1094.1,747.0 1097.1,750.0 1100.1,753.0 1103.1,756.1 1106.1,759.2 1109.1,762.4 1112.1,765.6 1115.1,768.7 1118.1,771.9 1121.1,774.9 1124.1,777.9 1127.1,780.9 1130.1,783.8 1133.1,786.6 1136.1,789.5 1139.1,792.4 1142.1,795.2 1145.1,797.9 1148.1,800.6 1151.1,803.2 1154.1,805.7 1157.1,808.1 1160.1,810.4 1163.1,812.5 1166.1,814.5 1169.1,816.4 1172.1,818.5 1175.1,820.6 1178.1,822.7 1181.1,824.8 1184.2,827.0 1187.2,829.1 1190.2,831.1 1193.2,833.1 1196.2,834.9 1199.2,836.6 1202.2,838.1 1205.2,839.5 1208.2,840.9 1211.2,842.2 1214.2,843.4 1217.2,844.6 1220.2,845.8 1223.2,846.9 1226.2,848.1 1229.2,849.2 1232.2,850.3 1235.2,851.4 1238.2,852.5 1241.2,853.5 1244.2,854.5 1247.2,855.5 1250.2,856.6 1253.2,857.6 1256.2,858.6 1259.2,859.6 1262.2,860.7 1265.2,861.8 1268.2,862.9 1271.2,864.0 1274.2,865.1 1277.2,866.2 1280.3,867.3 1283.3,868.4 1286.3,869.5 1289.3,870.6 1292.3,871.6 1295.3,872.6 1298.3,873.6 1301.3,874.6 1304.3,875.5 1307.3,876.4 1310.3,877.3 1313.3,878.2 1316.3,879.0 1319.3,879.9 1322.3,880.7 1325.3,881.6 1328.3,882.4 1331.3,883.3 1334.3,884.2 1337.3,885.1 1340.3,886.0 1343.3,886.9 1346.3,887.8 1349.3,888.7 1352.3,889.6 1355.3,890.5 1358.3,891.4 1361.3,892.3 1364.3,893.2 1367.3,894.0 1370.3,894.9 1373.3,895.8 1376.4,896.6 1379.4,897.4 1382.4,898.2 1385.4,899.0 1388.4,899.8 1391.4,900.5 1394.4,901.2 1397.4,901.9 1400.4,902.6 1403.4,903.3 1406.4,904.0 1409.4,904.7 1412.4,905.3 1415.4,906.0 1418.4,906.6 1421.4,907.3 1424.4,908.0 1427.4,908.7 1430.4,909.3 1433.4,910.0 1436.4,910.8 1439.4,911.5 1442.4,912.2 1445.4,913.0 1448.4,913.7 1451.4,914.5 1454.4,915.3 1457.4,916.1 1460.4,916.8 1463.4,917.6 1466.4,918.4 1469.4,919.2 1472.4,920.0 1475.5,920.8 1478.5,921.6 1481.5,922.4 1484.5,923.2 1487.5,924.0 1490.5,924.8 1493.5,925.6 1496.5,926.4 1499.5,927.1 1502.5,927.9 1505.5,928.7 1508.5,929.5 1511.5,930.2 1514.5,931.0 1517.5,931.7 1520.5,932.5 1523.5,933.3 1526.5,934.0 1529.5,934.8 1532.5,935.6 1535.5,936.4 1538.5,937.1 1541.5,937.9 1544.5,938.7 1547.5,939.5 1550.5,940.3 1553.5,941.1 1556.5,941.9 1559.5,942.7 1562.5,943.5 1565.5,944.4 1568.5,945.2 1571.6,946.0 1574.6,946.8 1577.6,947.6 1580.6,948.5 1583.6,949.3 1586.6,950.0 1589.6,950.8 1592.6,951.6 1595.6,952.4 1598.6,953.2 1601.6,953.9 1604.6,954.7 1607.6,955.5 1610.6,956.2 1613.6,957.0 1616.6,957.7 1619.6,958.5 1622.6,959.2 1625.6,960.0 1628.6,960.7 1631.6,961.5 1634.6,962.2 1637.6,963.0 1640.6,963.7 1643.6,964.5 1646.6,965.2 1649.6,965.9 1652.6,966.7 1655.6,967.4 1658.6,968.2 1661.6,968.9 1664.6,969.7 1667.7,970.4 1670.7,971.2 1673.7,972.0 1676.7,972.7 1679.7,973.5 1682.7,974.3 1685.7,975.0 1688.7,975.8 1691.7,976.6 1694.7,977.4 1697.7,978.1 1700.7,978.9 1703.7,979.7 1706.7,980.4 1709.7,981.2 1712.7,981.9 1715.7,982.6 1718.7,983.3 1721.7,984.0 1724.7,984.7 1727.7,985.4 1730.7,986.1 1733.7,986.7 1736.7,987.4 1739.7,988.0 1742.7,988.7 1745.7,989.3 1748.7,989.9 1751.7,990.6 1754.7,991.2 1757.7,991.8 1760.7,992.4 1763.8,993.0 1766.8,993.6 1769.8,994.2 1772.8,994.7 1775.8,995.3 1778.8,995.8 1781.8,996.4 1784.8,996.9 1787.8,997.4 1790.8,998.0 1793.8,998.5 1796.8,999.0 1799.8,999.5 1802.8,1000.0 1805.8,1000.5 1808.8,1001.0 1811.8,1001.5 1814.8,1002.0 1817.8,1002.5 1820.8,1002.9 1823.8,1003.4 1826.8,1003.8 1829.8,1004.2 1832.8,1004.6 1835.8,1005.0 1838.8,1005.4 1841.8,1005.8 1844.8,1006.1 1847.8,1006.4 1850.8,1006.8 1853.8,1007.1 1856.8,1007.4 1859.9,1007.8 1862.9,1008.1 1865.9,1008.4 1868.9,1008.7 1871.9,1008.9 1874.9,1009.2 1877.9,1009.5 1880.9,1009.8 1883.9,1010.0 1886.9,1010.3 1889.9,1010.5 1892.9,1010.8 1895.9,1011.0 1898.9,1011.2 1901.9,1011.4 1904.9,1011.6 1907.9,1011.8 1910.9,1012.0 1913.9,1012.2 1916.9,1012.4 1919.9,1012.6 1922.9,1012.8 1925.9,1013.0 1928.9,1013.2 1931.9,1013.3 1934.9,1013.5 1937.9,1013.7 1940.9,1013.8 1943.9,1014.0 1946.9,1014.2 1949.9,1014.3 1952.9,1014.5 1956.0,1014.6 1959.0,1014.8 1962.0,1015.0 1965.0,1015.1 1968.0,1015.3 1971.0,1015.5 1974.0,1015.6 1977.0,1015.8 1980.0,1015.9 1983.0,1016.1 1986.0,1016.2 1989.0,1016.4 1992.0,1016.5 1995.0,1016.7 1998.0,1016.8 2001.0,1017.0 2004.0,1017.1"/>
<polyline stroke="#00ff00" points="265.2,200.8 268.2,200.3 271.2,199.7 272.0,199.5 274.2,198.9 277.2,198.1 278.5,198.0 280.0,207.0 280.2,209.5 280.8,216.0 283.0,218.0 283.2,218.0 286.2,217.6 289.2,217.1 290.9,217.0 292.2,217.2 295.2,218.7 298.2,220.8 301.2,222.7 304.2,224.4 307.2,226.2 310.2,227.9 313.2,229.7 316.3,231.5 319.3,233.4 322.3,235.4 325.3,237.5 328.3,239.7 331.3,242.1 334.3,244.6 337.3,247.2 340.3,249.9 343.3,252.5 346.3,255.1 349.3,257.6 352.3,260.0 355.3,262.4 358.3,264.7 361.3,267.0 364.3,269.3 367.3,271.7 370.3,274.0 373.3,276.4 376.3,278.8 379.3,281.3 382.3,283.9 385.3,286.5 388.3,289.1 391.3,291.7 394.3,294.2 397.3,296.5 400.3,298.6 403.3,300.6 406.3,302.6 409.3,304.4 412.4,306.2 415.4,307.9 418.4,309.6 421.4,311.2 424.4,312.9 427.4,314.5 430.4,316.1 433.4,317.7 436.4,319.2 439.4,320.7 442.4,322.2 445.4,323.6 448.4,325.0 451.4,326.3 454.4,327.5 457.4,328.7 460.4,329.8 463.4,330.9 466.4,332.0 469.4,333.2 472.4,334.3 475.4,335.5 478.4,336.7 481.4,338.0 484.4,339.3 487.4,340.6 490.4,341.9 493.4,343.1 496.4,344.3 499.4,345.4 502.4,346.4 505.4,347.4 508.5,348.4 511.5,349.3 514.5,350.2 517.5,351.0 520.5,351.9 523.5,352.7 526.5,353.5 529.5,354.3 532.5,355.1 535.5,355.9 538.5,356.7 541.5,357.5 544.5,358.3 547.5,359.1 550.5,359.9 553.5,360.8 556.5,361.6 559.5,362.5 562.5,363.3 565.5,364.2 568.5,365.0 571.5,365.9 574.5,366.7 577.5,367.6 580.5,368.4 583.5,369.2 586.5,370.0 589.5,370.8 592.5,371.6 595.5,372.3 598.5,373.1 601.5,373.8 604.6,374.4 607.6,375.1 610.6,375.7 613.6,376.4 616.6,377.0 619.6,377.6 622.6,378.2 625.6,378.7 628.6,379.3 631.6,379.9 634.6,380.5 637.6,381.1 640.6,381.7 643.6,382.3 646.6,383.0 649.6,383.6 652.6,384.3 655.6,385.0 658.6,385.7 661.6,386.4 664.6,387.1 667.6,387.8 670.6,388.6 673.6,389.3 676.6,390.1 679.6,390.8 682.6,391.5 685.6,392.3 688.6,393.0 691.6,393.7 694.6,394.4 697.6,395.1 700.7,395.7 703.7,396.4 706.7,397.0 709.7,397.6 712.7,398.2 715.7,398.8 718.7,399.4 721.7,399.9 724.7,400.5 727.7,401.1 730.7,401.7 733.7,402.3 736.7,402.9 739.7,403.5 742.7,404.1 745.7,404.8 748.7,405.5 751.7,406.2 754.7,407.0 757.7,407.8 760.7,408.7 763.7,409.6 766.7,410.5 769.7,411.4 772.7,412.2 775.7,413.1 778.7,414.0 781.7,414.7 784.7,415.5 787.7,416.2 790.7,417.1 793.7,418.2 796.8,419.5 799.8,420.9 802.8,422.3 805.8,423.9 808.8,425.4 811.8,427.1 814.8,428.9 817.8,430.7 820.8,432.7 823.8,434.9 826.8,437.2 829.8,439.9 832.8,443.3 835.8,447.3 838.8,451.7 841.8,456.2 844.8,460.6 847.8,464.9 850.8,469.1 853.8,473.5 856.8,477.8 859.8,482.1 862.8,486.4 865.8,490.7 868.8,494.9 871.8,499.1 874.8,503.2 877.8,507.2 880.8,511.2 883.8,515.1 886.8,518.9 889.8,522.7 892.8,526.3 895.9,529.8 898.9,533.3 901.9,536.7 904.9,540.1 907.9,543.5 910.9,546.9 913.9,550.4 916.9,554.0 919.9,557.6 922.9,561.4 925.9,565.3 928.9,569.3 931.9,573.4 934.9,577.5 937.9,581.5 940.9,585.4 943.9,589.4 946.9,593.3 949.9,597.3 952.9,601.2 955.9,605.1 958.9,609.0 961.9,613.0 964.9,616.9 967.9,620.8 970.9,624.7 973.9,628.6 976.9,632.4 979.9,636.3 982.9,640.2 985.9,644.0 988.9,647.9 992.0,651.9 995.0,655.9 998.0,659.9 1001.0,664.1 1004.0,668.4 1007.0,672.8 1010.0,677.2 1013.0,681.5 1016.0,685.7 1019.0,689.8 1022.0,693.8 1025.0,697.7 1028.0,701.6 1031.0,705.4 1034.0,709.1 1037.0,712.8 1040.0,716.4 1043.0,719.9 1046.0,723.3 1049.0,726.5 1052.0,729.7 1055.0,732.8 1058.0,735.9 1061.0,739.0 1064.0,742.1 1067.0,745.3 1070.0,748.5 1073.0,751.8 1076.0,755.3 1079.0,758.8 1082.0,762.3 1085.0,765.9 1088.1,769.5 1091.1,773.0 1094.1,776.5 1097.1,779.8 1100.1,783.1 1103.1,786.3 1106.1,789.5 1109.1,792.6 1112.1,795.7 1115.1,798.8 1118.1,801.8 1121.1,804.9 1124.1,808.0 1127.1,811.2 1130.1,814.4 1133.1,817.7 1136.1,820.9 1139.1,824.1 1142.1,827.2 1145.1,830.1 1148.1,832.8 1151.1,835.2 1154.1,837.7 1157.1,840.3 1160.1,843.1 1163.1,845.9 1166.1,848.8 1169.1,851.5 1172.1,854.0 1175.1,856.4 1178.1,858.8 1181.1,861.1 1184.2,863.4 1187.2,865.6 1190.2,867.7 1193.2,869.7 1196.2,871.6 1199.2,873.3 1202.2,875.0 1205.2,876.5 1208.2,877.9 1211.2,879.3 1214.2,880.6 1217.2,881.8 1220.2,883.1 1223.2,884.2 1226.2,885.4 1229.2,886.6 1232.2,887.7 1235.2,888.9 1238.2,890.0 1241.2,891.0 1244.2,892.1 1247.2,893.1 1250.2,894.1 1253.2,895.1 1256.2,896.2 1259.2,897.2 1262.2,898.3 1265.2,899.4 1268.2,900.5 1271.2,901.6 1274.2,902.7 1277.2,903.8 1280.3,904.9 1283.3,906.0 1286.3,907.1 1289.3,908.2 1292.3,909.2 1295.3,910.3 1298.3,911.3 1301.3,912.3 1304.3,913.3 1307.3,914.3 1310.3,915.3 1313.3,916.2 1316.3,917.2 1319.3,918.1 1322.3,919.1 1325.3,920.0 1328.3,920.9 1331.3,921.8 1334.3,922.7 1337.3,923.6 1340.3,924.5 1343.3,925.4 1346.3,926.3 1349.3,927.2 1352.3,928.1 1355.3,928.9 1358.3,929.8 1361.3,930.6 1364.3,931.5 1367.3,932.3 1370.3,933.2 1373.3,934.0 1376.4,934.8 1379.4,935.7 1382.4,936.5 1385.4,937.3 1388.4,938.0 1391.4,938.8 1394.4,939.6 1397.4,940.3 1400.4,941.0 1403.4,941.8 1406.4,942.5 1409.4,943.2 1412.4,943.9 1415.4,944.6 1418.4,945.4 1421.4,946.1 1424.4,946.8 1427.4,947.5 1430.4,948.3 1433.4,949.0 1436.4,949.8 1439.4,950.6 1442.4,951.3 1445.4,952.2 1448.4,953.0 1451.4,953.8 1454.4,954.7 1457.4,955.5 1460.4,956.4 1463.4,957.3 1466.4,958.1 1469.4,959.0 1472.4,959.9 1475.5,960.7 1478.5,961.6 1481.5,962.4 1484.5,963.3 1487.5,964.1 1490.5,964.9 1493.5,965.7 1496.5,966.5 1499.5,967.3 1502.5,968.1 1505.5,968.8 1508.5,969.5 1511.5,970.3 1514.5,971.0 1517.5,971.7 1520.5,972.4 1523.5,973.1 1526.5,973.9 1529.5,974.6 1532.5,975.3 1535.5,976.0 1538.5,976.8 1541.5,977.5 1544.5,978.3 1547.5,979.1 1550.5,979.9 1553.5,980.7 1556.5,981.6 1559.5,982.4 1562.5,983.3 1565.5,984.2 1568.5,985.1 1571.6,986.0 1574.6,986.9 1577.6,987.8 1580.6,988.6 1583.6,989.5 1586.6,990.3 1589.6,991.1 1592.6,991.9 1595.6,992.7 1598.6,993.5 1601.6,994.2 1604.6,995.0 1607.6,995.7 1610.6,996.5 1613.6,997.2 1616.6,997.9 1619.6,998.7 1622.6,999.4 1625.6,1000.1 1628.6,1000.8 1631.6,1001.6 1634.6,1002.3 1637.6,1003.0 1640.6,1003.7 1643.6,1004.4 1646.6,1005.2 1649.6,1005.9 1652.6,1006.6 1655.6,1007.4 1658.6,1008.1 1661.6,1008.9 1664.6,1009.6 1667.7,1010.4 1670.7,1011.2 1673.7,1012.0 1676.7,1012.8 1679.7,1013.6 1682.7,1014.5 1685.7,1015.3 1688.7,1016.2 1691.7,1017.0 1694.7,1017.9 1697.7,1018.7 1700.7,1019.5 1703.7,1020.4 1706.7,1021.2 1709.7,1022.0 1712.7,1022.7 1715.7,1023.5 1718.7,1024.2 1721.7,1024.9 1724.7,1025.6 1727.7,1026.3 1730.7,1026.9 1733.7,1027.5 1736.7,1028.1 1739.7,1028.7 1742.7,1029.3 1745.7,1029.9 1748.7,1030.4 1751.7,1031.0 1754.7,1031.5 1757.7,1032.1 1760.7,1032.6 1763.8,1033.1 1766.8,1033.6 1769.8,1034.2 1772.8,1034.7 1775.8,1035.2 1778.8,1035.7 1781.8,1036.2 1784.8,1036.7 1787.8,1037.2 1790.8,1037.6 1793.8,1038.1 1796.8,1038.6 1799.8,1039.1 1802.8,1039.5 1805.8,1040.0 1808.8,1040.5 1811.8,1040.9 1814.8,1041.4 1817.8,1041.8 1820.8,1042.3 1823.8,1042.7 1826.8,1043.1 1829.8,1043.6 1832.8,1044.0 1835.8,1044.4 1838.8,1044.8 1841.8,1045.3 1844.8,1045.7 1847.8,1046.1 1850.8,1046.5 1853.8,1046.9 1856.8,1047.4 1859.9,1047.8 1862.9,1048.2 1865.9,1048.6 1868.9,1049.0 1871.9,1049.4 1874.9,1049.8 1877.9,1050.2 1880.9,1050.5 1883.9,1050.9 1886.9,1051.3 1889.9,1051.6 1892.9,1051.9 1895.9,1052.2 1898.9,1052.5 1901.9,1052.8 1904.9,1053.1 1907.9,1053.4 1910.9,1053.6 1913.9,1053.9 1916.9,1054.2 1919.9,1054.4 1922.9,1054.7 1925.9,1054.9 1928.9,1055.1 1931.9,1055.4 1934.9,1055.6 1937.9,1055.8 1940.9,1056.0 1943.9,1056.2 1946.9,1056.4 1949.9,1056.6 1952.9,1056.7 1956.0,1056.9 1959.0,1057.1 1962.0,1057.2 1965.0,1057.4 1968.0,1057.5 1971.0,1057.7 1974.0,1057.8 1977.0,1057.9 1980.0,1058.1 1983.0,1058.2 1986.0,1058.3 1989.0,1058.4 1992.0,1058.5 1995.0,1058.6 1998.0,1058.7 2001.0,1058.8 2004.0,1058.9"/>
</g>
<g stroke-width="10.4" stroke-linecap="round">
<line x1="763" y1="79.0" x2="899" y2="79.0" stroke="#ff0000"/>
<line x1="763" y1="159.8" x2="899" y2="159.8" stroke="#9900ff"/>
<line x1="763" y1="240.3" x2="899" y2="240.3" stroke="#ff00ff"/>
<line x1="763" y1="320.8" x2="899" y2="320.8" stroke="#00ff00"/>
</g>
<g font-size="65" letter-spacing="0.125">
<text id="lg1" x="916" y="99">Empty CS/ALG</text>
<text id="lg2" x="915.1" y="179.3">CS/ALG-(PHLC-Ca)(ALG:PHLC-Ca 1:1)</text>
<text id="lg3" x="915.1" y="259.6">CS/ALG-(PHLC-Ca)(ALG:PHLC-Ca 1:1/2)</text>
<text id="lg4" x="915.1" y="340">CS/ALG-(PHLC-Ca)(ALG:PHLC-Ca 1:1/3)</text>
</g>
<g font-size="81" text-anchor="end">
<text class="yl" x="210.5" y="1469.4">0</text>
<text class="yl" x="210.5" y="1212.1">20</text>
<text class="yl" x="210.5" y="954.8">40</text>
<text class="yl" x="210.5" y="697.5">60</text>
<text class="yl" x="210.5" y="440.2">80</text>
<text class="yl" x="210.5" y="182.9">100</text>
</g>
<g font-size="81" text-anchor="middle">
<text class="xl" x="471.3" y="1556.4">100</text>
<text class="xl" x="777.8" y="1556.4">200</text>
<text class="xl" x="1084.4" y="1556.4">300</text>
<text class="xl" x="1390.9" y="1556.4">400</text>
<text class="xl" x="1697.5" y="1556.4">500</text>
<text class="xl" x="2004.0" y="1556.4">600</text>
</g>
<text id="xt" font-size="84.3" text-anchor="middle" x="1207.2" y="1645">Temperature(°C)</text>
<text id="yt" font-size="85" text-anchor="middle" transform="translate(79.5,745.3) rotate(-90) scale(1.0154,1.02)">Mass(%)</text>
</svg>
</body>
</html>
